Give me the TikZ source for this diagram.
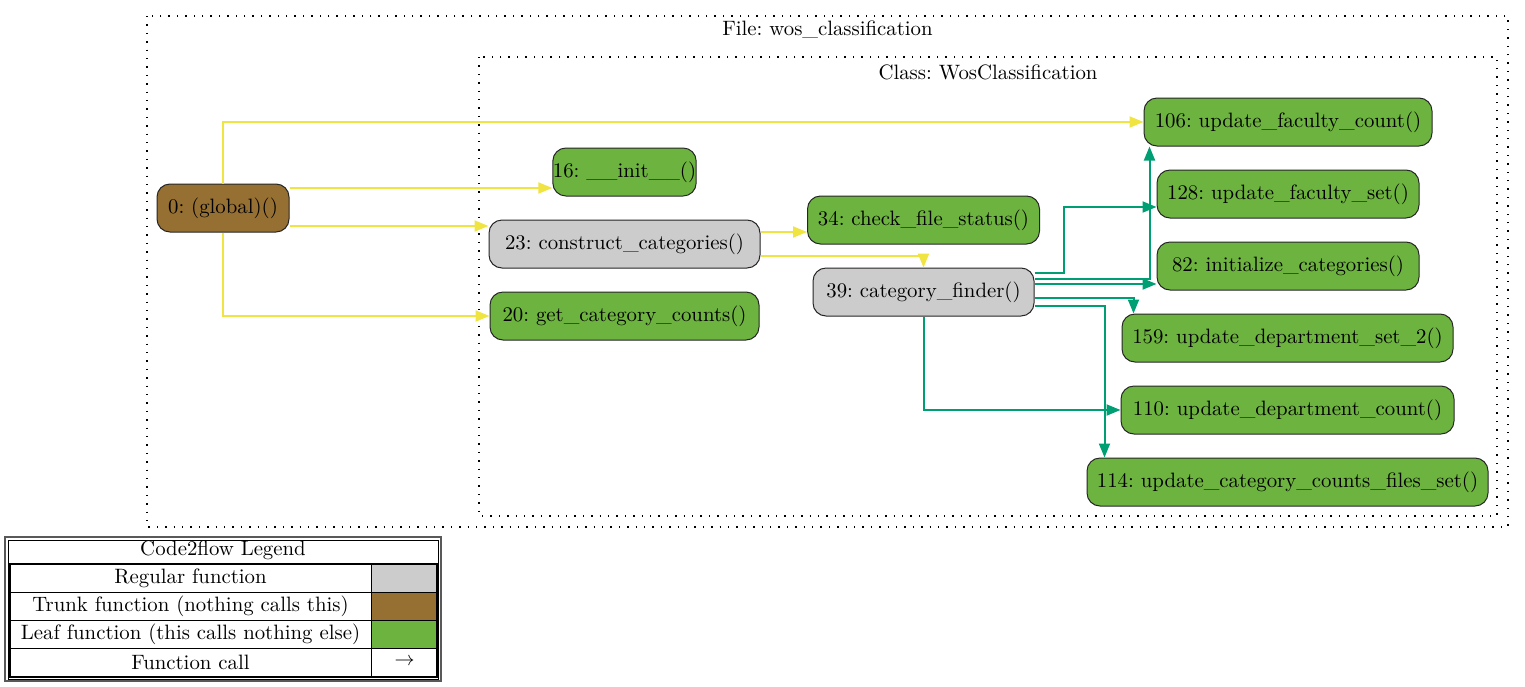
\documentclass[tikz,border=0pt]{standalone}
\usetikzlibrary{arrows.meta}
\definecolor{trunkfill}{HTML}{966F33}
\definecolor{leaffill}{HTML}{6DB33F}
\definecolor{regfill}{HTML}{CCCCCC}
\definecolor{callyellow}{HTML}{F0E442}
\definecolor{callteal}{HTML}{009E73}
\begin{document}
\frenchspacing
\begin{tikzpicture}[x=0.5pt,y=-0.5pt,
  font=\fontsize{10.4}{12.5}\selectfont,
  fn/.style={draw=black!85, line width=0.5pt, rounded corners=6.5pt,
             minimum height=24pt, inner sep=0pt},
  trunk/.style={fn, fill=trunkfill},
  leaf/.style={fn, fill=leaffill},
  regular/.style={fn, fill=regfill},
  call/.style={line width=1pt, -{Triangle[length=7pt,width=5.5pt]}},
  ye/.style={call, draw=callyellow},
  te/.style={call, draw=callteal},
  cluster/.style={draw=black, line width=0.7pt, dash pattern=on 0.7pt off 3.5pt},
  lgtext/.style={inner sep=0pt}
]
\useasboundingbox (0,0) rectangle (1525,686);

% clusters
\draw[cluster] (147,16) rectangle (1508,527);
\node[lgtext] (filelbl) at (827.5,30) {File: wos\_classification};
\draw[cluster] (479,57) rectangle (1497,516);
\node[lgtext] (classlbl) at (988,72) {Class: WosClassification};

% functions
\node[trunk, minimum width=66pt] (glob) at (223,208) {0: (global)()};
\node[leaf, minimum width=69.5pt] (init) at (624.5,172) {16: \_\_init\_\_()};
\node[regular, minimum width=135.5pt] (constr) at (624.5,244) {23: construct\_categories()};
\node[leaf, minimum width=134.5pt] (getcc) at (624.5,316) {20: get\_category\_counts()};
\node[leaf, minimum width=116pt] (check) at (923.5,220) {34: check\_file\_status()};
\node[regular, minimum width=110.5pt] (catf) at (923.5,292) {39: category\_finder()};
\node[leaf, minimum width=144pt] (n106) at (1288,122) {106: update\_faculty\_count()};
\node[leaf, minimum width=131pt] (n128) at (1288,194) {128: update\_faculty\_set()};
\node[leaf, minimum width=131pt] (n82) at (1288,266) {82: initialize\_categories()};
\node[leaf, minimum width=165.5pt] (n159) at (1287.5,338) {159: update\_department\_set\_2()};
\node[leaf, minimum width=166.5pt] (n110) at (1287.5,410) {110: update\_department\_count()};
\node[leaf, minimum width=200.5pt] (n114) at (1287.5,482) {114: update\_category\_counts\_files\_set()};

% calls from the module level
\draw[ye] (glob.north) |- (n106.west);
\coordinate (g1) at ([yshift=10pt]glob.east);
\draw[ye] (g1) -- (init.west |- g1);
\coordinate (g2) at ([yshift=-9pt]glob.east);
\draw[ye] (g2) -- (constr.west |- g2);
\draw[ye] (glob.south) |- (getcc.west);

% calls from construct_categories
\coordinate (c1) at ([yshift=6pt]constr.east);
\draw[ye] (c1) -- (check.west |- c1);
\coordinate (c2) at ([yshift=-6pt]constr.east);
\draw[ye] (c2) -| (catf.north);

% calls from category_finder
\coordinate (f1) at ([yshift=9.5pt]catf.east);
\coordinate (t128) at ([yshift=-6.5pt]n128.west);
\draw[te] (f1) -- ++(29,0) |- (t128);
\coordinate (f2) at ([yshift=6.5pt]catf.east);
\draw[te] (f2) -| ([xshift=3pt]n106.south west);
\coordinate (f3) at ([yshift=4pt]catf.east);
\draw[te] (f3) -- (n82.west |- f3);
\coordinate (f4) at ([yshift=-3pt]catf.east);
\draw[te] (f4) -| ([xshift=6pt]n159.north west);
\coordinate (f5) at ([yshift=-7pt]catf.east);
\draw[te] (f5) -| ([xshift=9pt]n114.north west);
\draw[te] (catf.south) |- (n110.west);

% legend
\draw[draw=black!65, line width=1pt] (5,537) rectangle (441,681);
\draw[draw=black, line width=0.5pt] (8,540) rectangle (438,679);
\fill[regfill] (372,564) rectangle (437,592);
\fill[trunkfill] (372,592) rectangle (437,620);
\fill[leaffill] (372,620) rectangle (437,648);
\draw[line width=0.5pt] (10,592) -- (437,592) (10,620) -- (437,620) (10,648) -- (437,648)
  (371,564) -- (371,677);
\draw[line width=1.2pt] (10,564) rectangle (437,677);
\node[lgtext] (lgtitle) at (223,550) {Code2flow Legend};
\node[lgtext] (lgreg) at (190.5,578) {Regular function};
\node[lgtext] (lgtrunk) at (190.5,606) {Trunk function (nothing calls this)};
\node[lgtext] (lgleaf) at (190.5,634) {Leaf function (this calls nothing else)};
\node[lgtext] (lgcall) at (190.5,662) {Function call};
\node[lgtext] (lgarrow) at (404.5,662) {$\rightarrow$};
\end{tikzpicture}
\end{document}
